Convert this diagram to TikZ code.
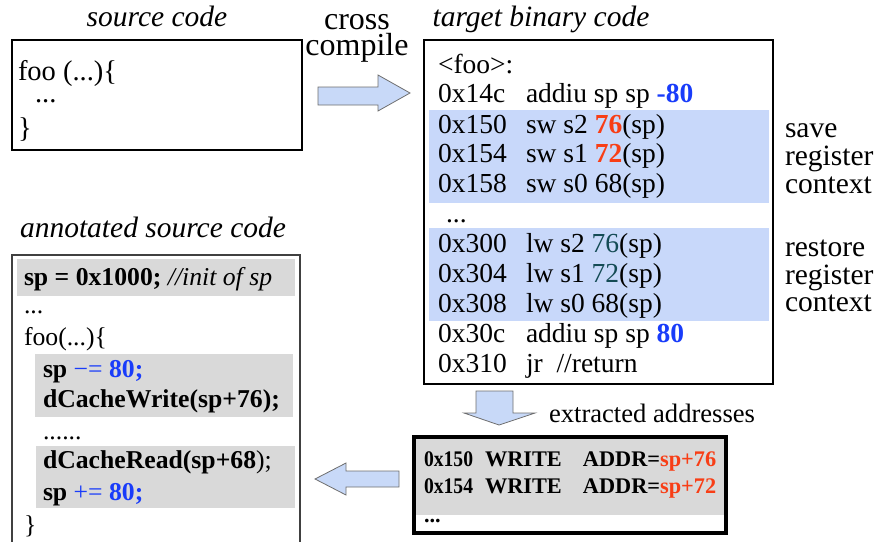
\documentclass[tikz,border=0pt]{standalone}
\usepackage{fontspec}
\setmainfont{Liberation Serif}

\definecolor{hlblue}{RGB}{200,216,250}
\definecolor{codegray}{RGB}{217,217,217}
\definecolor{numred}{RGB}{248,62,22}
\definecolor{numblue}{RGB}{25,60,250}
\definecolor{numteal}{RGB}{20,75,85}
\definecolor{arrowfill}{RGB}{200,217,248}
\definecolor{arrowline}{RGB}{110,110,110}

\newcommand\addr[1]{\makebox[88pt][l]{#1}}
\newcommand\xaddr[1]{\makebox[61pt][l]{\scalebox{0.88}[1]{#1}}}
\newcommand\xop[1]{\makebox[98pt][l]{#1}}

\begin{document}
\begin{tikzpicture}[x=1pt,y=-1pt,
  txt/.style={anchor=base west, inner sep=0pt, outer sep=0pt},
  ctr/.style={anchor=base, inner sep=0pt, outer sep=0pt},
  ttl/.style={ctr, font=\fontsize{29.5}{32}\selectfont\itshape},
  srcfont/.style={font=\fontsize{28.5}{30}\selectfont},
  asmfont/.style={font=\fontsize{27.5}{30}\selectfont},
  sidefont/.style={font=\fontsize{29.5}{30}\selectfont},
  annfont/.style={font=\fontsize{25.7}{28}\selectfont},
  extfont/.style={font=\fontsize{22.3}{26}\selectfont\bfseries},
  box/.style={draw=black, line width=1.2pt, anchor=north west, inner sep=0pt, outer sep=0pt},
  blockarrow/.style={fill=arrowfill, draw=arrowline, line width=0.8pt, line join=miter},
]
\useasboundingbox (0,0) rectangle (877,541);

% ---------- source code ----------
\node[ttl] (srctitle) at (157,26) {source code};
\node[box, minimum width=290pt, minimum height=110pt] (srcbox) at (12,40) {};
\node[txt, srcfont] (src1) at (18,80) {foo (...)\{};
\node[txt, srcfont] (src2) at (35,102) {...};
\node[txt, srcfont] (src3) at (18,137) {\}};

% ---------- cross compile ----------
\node[anchor=north, inner sep=0pt, align=center,
      font=\fontsize{32}{26.5}\selectfont] (cc) at (357,14) {cross\\compile};
\draw[blockarrow] (318,87) -- (378,87) -- (378,75) -- (410,93) -- (378,111)
  -- (378,105) -- (318,105) -- cycle;

% ---------- target binary code ----------
\node[ttl] (tgttitle) at (541,26) {target binary code};
\node[box, minimum width=349pt, minimum height=344pt] (tgtbox) at (424,40) {};
\fill[hlblue] (429,110) rectangle (769,203);
\fill[hlblue] (429,228) rectangle (769,321);

\node[txt, asmfont] (t0) at (438,73) {<foo>:};
\node[txt, asmfont] (t1) at (438,102) {\addr{0x14c}addiu sp sp {\bfseries\color{numblue}-80}};
\node[txt, asmfont] (t2) at (438,133) {\addr{0x150}sw s2 {\bfseries\color{numred}76}(sp)};
\node[txt, asmfont] (t3) at (438,162) {\addr{0x154}sw s1 {\bfseries\color{numred}72}(sp)};
\node[txt, asmfont] (t4) at (438,192) {\addr{0x158}sw s0 68(sp)};
\node[txt, asmfont] (t5) at (446,222) {...};
\node[txt, asmfont] (t6) at (438,252) {\addr{0x300}lw s2 {\color{numteal}76}(sp)};
\node[txt, asmfont] (t7) at (438,282) {\addr{0x304}lw s1 {\color{numteal}72}(sp)};
\node[txt, asmfont] (t8) at (438,312) {\addr{0x308}lw s0 68(sp)};
\node[txt, asmfont] (t9) at (438,342) {\addr{0x30c}addiu sp sp {\bfseries\color{numblue}80}};
\node[txt, asmfont] (t10) at (438,372) {\addr{0x310}jr\ \ //return};

% side labels
\node[txt, sidefont] (sv1) at (785,137) {save};
\node[txt, sidefont] (sv2) at (785,165) {register};
\node[txt, sidefont] (sv3) at (785,193) {context};
\node[txt, sidefont] (rs1) at (785,256) {restore};
\node[txt, sidefont] (rs2) at (785,284) {register};
\node[txt, sidefont] (rs3) at (785,311) {context};

% ---------- extracted addresses ----------
\draw[blockarrow] (476,391) -- (513,391) -- (513,413) -- (535,413) -- (499,425)
  -- (464,413) -- (476,413) -- cycle;
\node[txt, font=\fontsize{26.6}{28}\selectfont] (extlbl) at (549,422) {extracted addresses};

\fill[codegray] (414,437) rectangle (726,515);
\draw[line width=3.5pt] (414,437) rectangle (726,533);
\node[txt, extfont] (x1) at (424,466) {\xaddr{0x150}\xop{WRITE}ADDR={\color{numred}sp+76}};
\node[txt, extfont] (x2) at (424,493) {\xaddr{0x154}\xop{WRITE}ADDR={\color{numred}sp+72}};
\node[txt, extfont] (x3) at (424,522) {...};

\draw[blockarrow] (399,471) -- (346,471) -- (346,463) -- (315,479) -- (346,495)
  -- (346,487) -- (399,487) -- cycle;

% ---------- annotated source code ----------
\node[ttl] (anntitle) at (153,237) {annotated source code};
\draw[line width=1.6pt, draw=black!75] (12,560) -- (12,255) -- (300,255) -- (300,560);
\fill[codegray] (17,259) rectangle (295,296);
\fill[codegray] (35,354) rectangle (293,417);
\fill[codegray] (36,446) rectangle (295,508);

\node[txt, annfont] (a1) at (24,285) {\textbf{sp = 0x1000;} \textit{//init of sp}};
\node[txt, annfont] (a2) at (24,313) {...};
\node[txt, annfont] (a3) at (24,345) {foo(...)\{};
\node[txt, annfont] (a4) at (43,377) {\textbf{sp} {\color{numblue}−= \textbf{80;}}};
\node[txt, annfont] (a5) at (43,407) {\textbf{dCacheWrite(sp+76);}};
\node[txt, annfont] (a6) at (43,439) {......};
\node[txt, annfont] (a7) at (43,468) {\textbf{dCacheRead(sp+68});};
\node[txt, annfont] (a8) at (43,500) {\textbf{sp} {\color{numblue}+= \textbf{80;}}};
\node[txt, annfont] (a9) at (24,533) {\}};
\end{tikzpicture}
\end{document}
